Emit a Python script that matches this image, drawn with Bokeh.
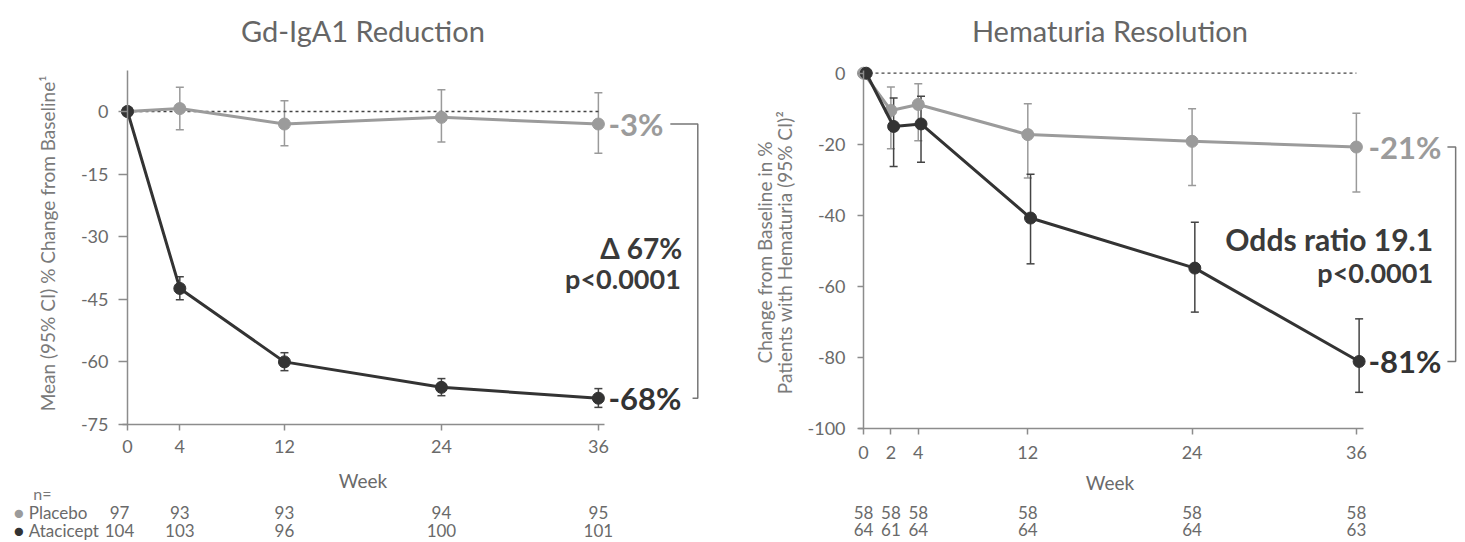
import math
from bokeh.plotting import figure
from bokeh.models import (ColumnDataSource, Whisker, Label, TeeHead, LinearAxis, FixedTicker,
                          CustomJSTickFormatter)
from bokeh.layouts import row
from bokeh.embed import file_html
from bokeh.resources import INLINE

# ---------------- data ----------------
gd_weeks = [0, 4, 12, 24, 36]
gd_placebo = [0, 0.7, -3.0, -1.4, -3.0]
gd_placebo_lo = [0, -4.4, -8.2, -7.3, -10.0]
gd_placebo_hi = [0, 5.8, 2.6, 5.2, 4.5]
gd_atacicept = [0, -42.4, -60.0, -66.1, -68.7]
gd_atacicept_lo = [0, -45.1, -62.1, -68.1, -70.9]
gd_atacicept_hi = [0, -39.6, -57.8, -64.0, -66.4]
gd_n_placebo = [97, 93, 93, 94, 95]
gd_n_atacicept = [104, 103, 96, 100, 101]
gd_yticks = [0, -15, -30, -45, -60, -75]

hem_weeks = [0, 2, 4, 12, 24, 36]
hem_placebo = [0, -10.5, -8.8, -17.3, -19.2, -20.8]
hem_placebo_lo = [0, -21.3, -19.0, -29.5, -31.6, -33.5]
hem_placebo_hi = [0, -3.9, -3.0, -8.6, -10.0, -11.3]
hem_atacicept = [0, -15.0, -14.3, -40.8, -54.9, -81.2]
hem_atacicept_lo = [0, -26.3, -25.1, -53.7, -67.3, -89.9]
hem_atacicept_hi = [0, -7.0, -6.5, -28.5, -42.0, -69.2]
hem_n_placebo = [58, 58, 58, 58, 58, 58]
hem_n_atacicept = [64, 61, 64, 64, 64, 63]
hem_yticks = [0, -20, -40, -60, -80, -100]

gd_title = "Gd-IgA1 Reduction"
hem_title = "Hematuria Resolution"
gd_ylabel = "Mean (95% CI) % Change from Baseline\u00b9"
hem_ylabel = ["Change from Baseline in %", "Patients with Hematuria (95% CI)\u00b2"]
gd_end_labels = ["-3%", "-68%"]
gd_stat = ["\u0394 67%", "p<0.0001"]
hem_end_labels = ["-21%", "-81%"]
hem_stat = ["Odds ratio 19.1", "p<0.0001"]
xlabel = "Week"
n_header = "n="
group_names = ["Placebo", "Atacicept"]

# ---------------- style ----------------
FONT = "Lato"
C_PLA = "#9b9b9b"
C_ATA = "#333333"
C_AX = "#8c8c8c"
C_TXT = "#6a6a6a"
C_STAT = "#3a3a3a"


def make_axes(p, xticks, yticks, xbounds, ybounds, ybase, ytick_out, ystandoff, xstandoff):
    xa = LinearAxis(fixed_location=ybase, bounds=xbounds, ticker=FixedTicker(ticks=xticks))
    ya = LinearAxis(fixed_location=0, bounds=ybounds, ticker=FixedTicker(ticks=yticks))
    for ax in (xa, ya):
        ax.formatter = CustomJSTickFormatter(code="return tick.toFixed(0)")
        ax.axis_line_color = C_AX
        ax.axis_line_width = 1.5
        ax.major_tick_line_color = C_AX
        ax.major_tick_line_width = 1.5
        ax.minor_tick_line_color = None
        ax.major_tick_in = 0
        ax.major_label_text_font = FONT
        ax.major_label_text_font_size = "18px"
        ax.major_label_text_color = C_TXT
    xa.major_tick_out = 6
    ya.major_tick_out = ytick_out
    xa.major_label_standoff = xstandoff
    ya.major_label_standoff = ystandoff
    p.add_layout(xa, "below")
    p.add_layout(ya, "left")


def base_fig(width, xr, yr):
    p = figure(width=width, height=542, x_range=xr, y_range=yr,
               x_axis_type=None, y_axis_type=None, min_border=0,
               toolbar_location=None, output_backend="svg")
    p.xgrid.visible = False
    p.ygrid.visible = False
    p.outline_line_color = None
    return p


def add_series(p, x, y, lo, hi, color, bar_color):
    src = ColumnDataSource(dict(x=x[1:], lo=lo[1:], hi=hi[1:]))
    p.add_layout(Whisker(base="x", lower="lo", upper="hi", source=src,
                         line_color=bar_color, line_width=1.5,
                         upper_head=TeeHead(size=8, line_color=bar_color, line_width=1.5),
                         lower_head=TeeHead(size=8, line_color=bar_color, line_width=1.5)))
    p.line(x, y, line_color=color, line_width=3)
    p.scatter(x, y, size=12, fill_color=color, line_color=color)


def txt(p, x, y, text, size, color, bold=False, align="left", xoff=0, angle=0):
    p.add_layout(Label(x=x, y=y, text=text, text_font=FONT, text_font_size=size,
                       text_color=color, text_font_style="bold" if bold else "normal",
                       text_align=align, text_baseline="middle", x_offset=xoff, angle=angle))


# ---------------- left panel ----------------
# frame = whole figure; week 0 at 127 px, 13.08 px/week; y=0 at 111 px, 4.173 px/unit
p1 = base_fig(740, (-9.709, 46.865), (-103.28, 26.6))
make_axes(p1, gd_weeks, gd_yticks, (-0.4, 36.5), (-75, 9.83), -75, 9, 10, 10)

p1.line([gd_weeks[0], gd_weeks[-1]], [0, 0], line_color="#444444", line_width=1.3, line_dash="3 3")
add_series(p1, gd_weeks, gd_placebo, gd_placebo_lo, gd_placebo_hi, C_PLA, "#9a9a9a")
add_series(p1, gd_weeks, gd_atacicept, gd_atacicept_lo, gd_atacicept_hi, C_ATA, "#444444")

p1.line([41.5, 43.6, 43.6, 43.2], [gd_placebo[-1], gd_placebo[-1], gd_atacicept[-1], gd_atacicept[-1]],
        line_color="#777777", line_width=1.5)
txt(p1, gd_weeks[-1], gd_placebo[-1], gd_end_labels[0], "31px", C_PLA, True, xoff=10)
txt(p1, gd_weeks[-1], gd_atacicept[-1], gd_end_labels[1], "31px", C_ATA, True, xoff=10)
txt(p1, 42.4, -32.6, gd_stat[0], "28px", C_STAT, True, align="right")
txt(p1, 42.3, -40.0, gd_stat[1], "27px", C_STAT, True, align="right")

txt(p1, 18, 19.4, gd_title, "29px", "#666666", align="center")
txt(p1, -6.12, -31.6, gd_ylabel, "19px", "#7a7a7a", align="center", angle=math.pi / 2)
txt(p1, 18, -88.4, xlabel, "19px", C_TXT, align="center")
txt(p1, -7.2, -91.5, n_header, "16px", "#777777")
txt(p1, -8.3, -96.1, "\u25cf", "17px", C_PLA, align="center")
txt(p1, -8.3, -100.4, "\u25cf", "17px", C_ATA, align="center")
txt(p1, -7.55, -96.1, group_names[0], "17px", C_TXT)
txt(p1, -7.55, -100.4, group_names[1], "17px", C_TXT)
for i, w in enumerate(gd_weeks):
    off = -8 if i == 0 else 0
    txt(p1, w, -96.1, str(gd_n_placebo[i]), "17px", C_TXT, align="center", xoff=off)
    txt(p1, w, -100.4, str(gd_n_atacicept[i]), "17px", C_TXT, align="center", xoff=off)

# ---------------- right panel ----------------
# week 0 at 123 px (863 abs), 13.69 px/week; y=0 at 72.7 px, 3.55 px/unit
dodge = 0.2
hem_weeks_ata = [w + dodge for w in hem_weeks]

p2 = base_fig(725, (-8.985, 43.97), (-132.2, 20.48))
make_axes(p2, hem_weeks, hem_yticks, (-0.4, 36.5), (-100, 0.8), -100, 6, 12, 12)

p2.line([hem_weeks[0], hem_weeks[-1]], [0, 0], line_color="#444444", line_width=1.3, line_dash="3 3")
add_series(p2, hem_weeks, hem_placebo, hem_placebo_lo, hem_placebo_hi, C_PLA, "#9a9a9a")
add_series(p2, hem_weeks_ata, hem_atacicept, hem_atacicept_lo, hem_atacicept_hi, C_ATA, "#444444")

p2.line([42.65, 43.25, 43.25, 42.65], [hem_placebo[-1], hem_placebo[-1], hem_atacicept[-1], hem_atacicept[-1]],
        line_color="#777777", line_width=1.5)
txt(p2, hem_weeks[-1], hem_placebo[-1], hem_end_labels[0], "31px", C_PLA, True, xoff=12)
txt(p2, hem_weeks[-1], hem_atacicept[-1], hem_end_labels[1], "31px", C_ATA, True, xoff=12)
txt(p2, 41.6, -46.6, hem_stat[0], "30px", C_STAT, True, align="right")
txt(p2, 41.6, -56.1, hem_stat[1], "27px", C_STAT, True, align="right")

txt(p2, 18, 12.0, hem_title, "29px", "#666666", align="center")
txt(p2, -7.25, -50.5, hem_ylabel[0], "19px", "#7a7a7a", align="center", angle=math.pi / 2)
txt(p2, -5.75, -50.5, hem_ylabel[1], "19px", "#7a7a7a", align="center", angle=math.pi / 2)
txt(p2, 18, -115.3, xlabel, "19px", C_TXT, align="center")
for i, w in enumerate(hem_weeks):
    txt(p2, w, -123.7, str(hem_n_placebo[i]), "17px", C_TXT, align="center")
    txt(p2, w, -128.5, str(hem_n_atacicept[i]), "17px", C_TXT, align="center")

layout = row(p1, p2)
open("out.html", "w").write(file_html(layout, INLINE))
